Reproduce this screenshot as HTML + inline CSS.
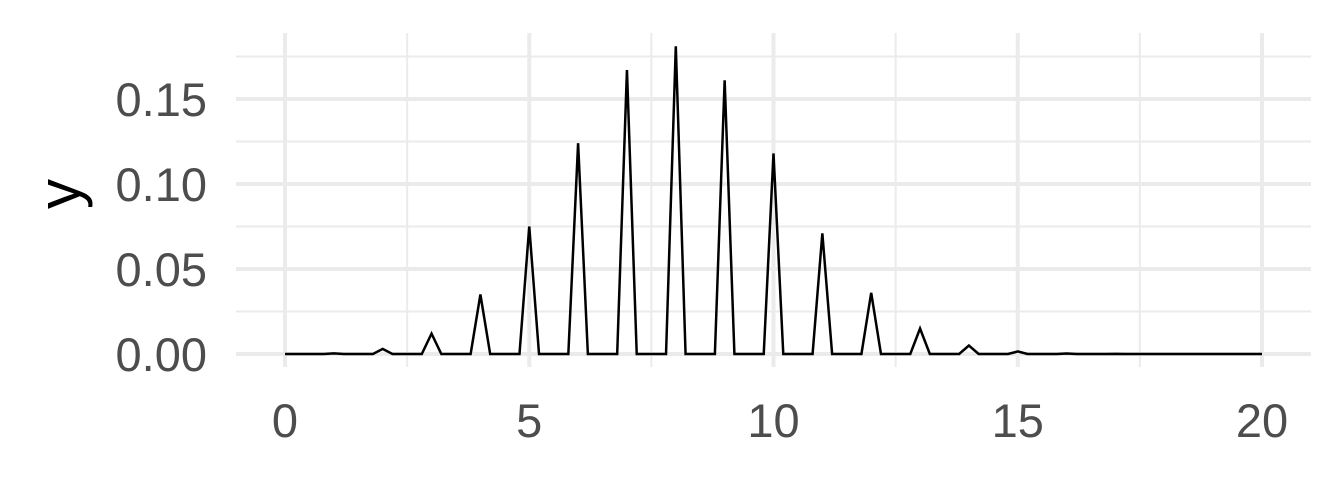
<!DOCTYPE html>
<html><head><meta charset="utf-8"><style>body{margin:0;background:#fff}svg{display:block}</style></head>
<body>
<svg id="chart" width="1344" height="480" font-family="Liberation Sans, sans-serif">
<g id="grid"></g>
<g id="axes"></g>
<path id="line" fill="none" stroke="#000" stroke-width="2.5" stroke-linejoin="miter"/>
<text transform="translate(80,194) rotate(-90)" text-anchor="middle" font-size="60" fill="#000">y</text>
</svg>
<script>
const intX = [0,1,2,3,4,5,6,7,8,9,10,11,12,13,14,15,16,17,18,19,20];
const intY = [0,0.0004,0.003,0.012,0.035,0.075,0.124,0.167,0.181,0.161,0.118,0.071,0.036,0.015,0.005,0.0015,0.0003,0.0001,0,0,0];
const xTicks = [0,5,10,15,20];
const xTickLabels = ["0","5","10","15","20"];
const yTicks = [0,0.05,0.10,0.15];
const yTickLabels = ["0.00","0.05","0.10","0.15"];
const step = 0.2;

const X0=285,X1=1262,Y0=354,YS=1700;
const sx=v=>X0+(v-0)*(X1-X0)/20;
const sy=v=>Y0-v*YS;
const NS="http://www.w3.org/2000/svg";
const grid=document.getElementById('grid'), axes=document.getElementById('axes');
function ln(par,x1,y1,x2,y2,w,name){const l=document.createElementNS(NS,'line');
l.setAttribute('x1',x1);l.setAttribute('y1',y1);l.setAttribute('x2',x2);l.setAttribute('y2',y2);
l.setAttribute('stroke','#ebebeb');l.setAttribute('stroke-width',w);


par.appendChild(l);}
const PL=236,PR=1311,PT=33,PB=367;
for(let i=0;i<xTicks.length;i++){ln(grid,sx(xTicks[i]),PT,sx(xTicks[i]),PB,4,'x-major-gridline');
 if(i<xTicks.length-1){const m=(xTicks[i]+xTicks[i+1])/2;ln(grid,sx(m),PT,sx(m),PB,2,'x-minor-gridline');}}
for(let i=0;i<yTicks.length;i++){ln(grid,PL,sy(yTicks[i]),PR,sy(yTicks[i]),4,'y-major-gridline');
 const m=yTicks[i]+0.025; if(sy(m)>PT) ln(grid,PL,sy(m),PR,sy(m),2,'y-minor-gridline');}
xTicks.forEach((v,i)=>{const t=document.createElementNS(NS,'text');t.textContent=xTickLabels[i];
t.setAttribute('x',sx(v));t.setAttribute('y',437);t.setAttribute('text-anchor','middle');t.setAttribute('font-size','47');t.setAttribute('fill','#4d4d4d');


axes.appendChild(t);});
yTicks.forEach((v,i)=>{const t=document.createElementNS(NS,'text');t.textContent=yTickLabels[i];
t.setAttribute('x',207);t.setAttribute('y',sy(v)+17);t.setAttribute('text-anchor','end');t.setAttribute('font-size','47');t.setAttribute('fill','#4d4d4d');


axes.appendChild(t);});
let d='';
for(let k=0;k<=100;k++){const x=k*step;const r=Math.round(x);const y=Math.abs(x-r)<1e-6?intY[intX.indexOf(r)]:0;
 d+=(k?'L':'M')+sx(x).toFixed(2)+','+sy(y).toFixed(2);}
document.getElementById('line').setAttribute('d',d);
</script>
</body></html>
